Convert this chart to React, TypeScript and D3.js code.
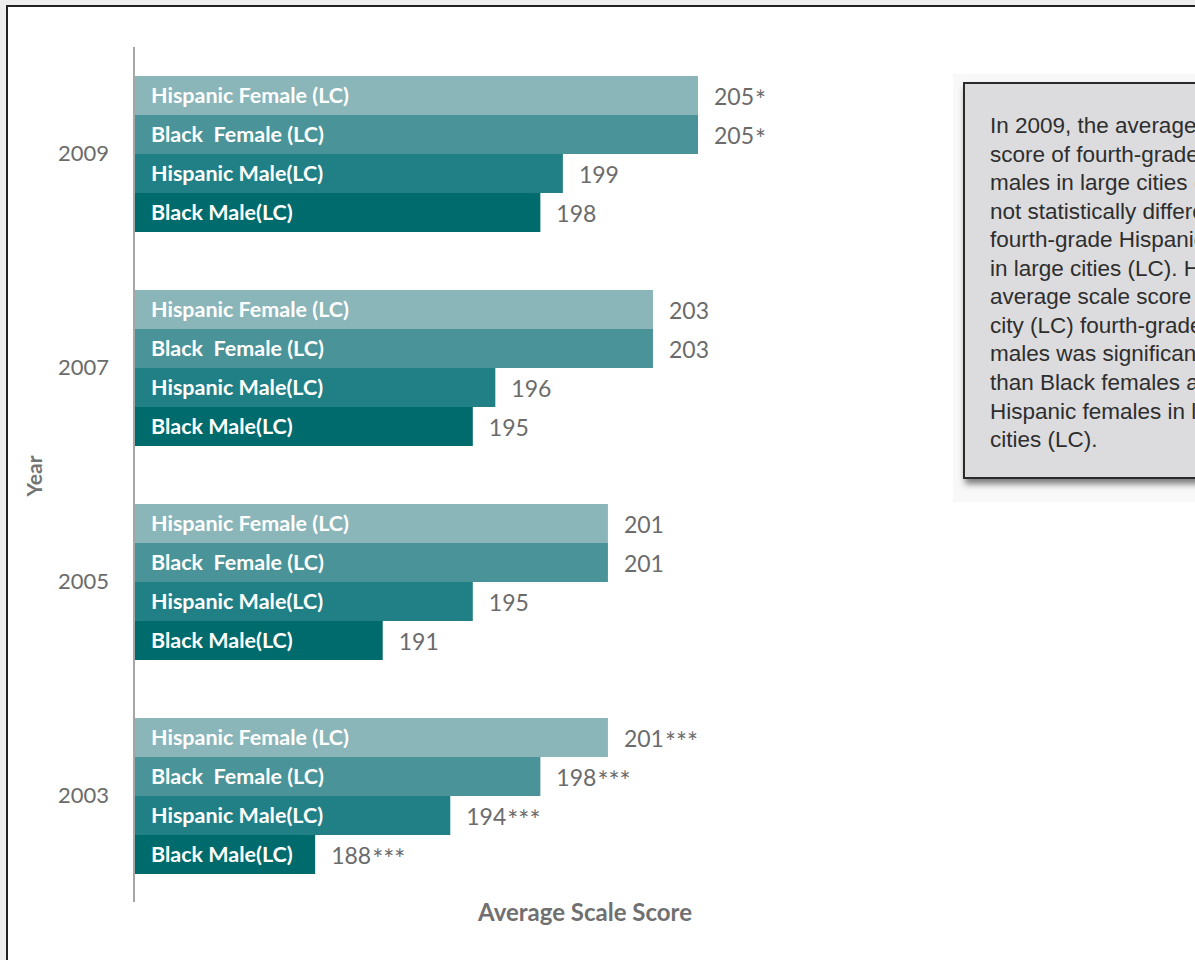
import React from "react";
import * as d3 from "d3";

const years = ["2009", "2007", "2005", "2003"];
const seriesNames = ["Hispanic Female (LC)", "Black  Female (LC)", "Hispanic Male(LC)", "Black Male(LC)"];
const seriesColors = ["#8ab5b9", "#4a9398", "#218086", "#006b6d"];
// values per year, in series order
const values2009 = [205, 205, 199, 198];
const values2007 = [203, 203, 196, 195];
const values2005 = [201, 201, 195, 191];
const values2003 = [201, 198, 194, 188];
const marks2009 = ["*", "*", "", ""];
const marks2007 = ["", "", "", ""];
const marks2005 = ["", "", "", ""];
const marks2003 = ["***", "***", "***", "***"];
const noteLines = [
  "In 2009, the average scale",
  "score of fourth-grade Black",
  "males in large cities (LC) was",
  "not statistically different from",
  "fourth-grade Hispanic males",
  "in large cities (LC). However, the",
  "average scale score of large",
  "city (LC) fourth-grade Black",
  "males was significantly lower",
  "than Black females and",
  "Hispanic females in large",
  "cities (LC).",
];

const valuesByYear = [values2009, values2007, values2005, values2003];
const marksByYear = [marks2009, marks2007, marks2005, marks2003];

export default function App() {
  const W = 1195, H = 960;
  const x = d3.scaleLinear().domain([180, 205]).range([135, 698]);
  const y0 = d3.scaleBand<string>().domain(years).range([76, 874]).paddingInner(58 / 214).paddingOuter(0);
  const y1 = d3.scaleBand<string>().domain(seriesNames).range([0, y0.bandwidth()]);
  const labelFont = "Lato, 'Open Sans', sans-serif";

  return (
    <div style={{ position: "absolute", left: 0, top: 0 }}>
      <svg width={W} height={H} style={{ display: "block" }}>
        <defs>
          <filter id="shadow" x="-10%" y="-10%" width="130%" height="130%">
            <feDropShadow dx="2" dy="5" stdDeviation="3" floodColor="#000" floodOpacity="0.5" />
          </filter>
        </defs>
        <rect x={0} y={0} width={W} height={H} fill="#eeeeee" />
        <rect x={7} y={6} width={W + 20} height={H + 20} fill="#ffffff" stroke="#222" strokeWidth={2} />

        {/* axis line */}
        <line x1={134} x2={134} y1={47} y2={902} stroke="#a6a6a6" strokeWidth={2} />

        {years.map((yr, gi) => {
          const gy = y0(yr)!;
          return (
            <g key={yr}>
              <text x={109} y={gy + y0.bandwidth() / 2 + 1} textAnchor="end" dominantBaseline="middle"
                fontFamily={labelFont} fontSize={22} fill="#6b6b6b">{yr}</text>
              {seriesNames.map((s, si) => {
                const v = valuesByYear[gi][si];
                const by = gy + y1(s)!;
                const bh = y1.bandwidth();
                const mk = marksByYear[gi][si];
                return (
                  <g key={s}>
                    <rect x={x(180)} y={by} width={x(v) - x(180)} height={bh} fill={seriesColors[si]} />
                    <text x={151} y={by + bh / 2 + 2} dominantBaseline="middle" fontFamily={labelFont}
                      fontWeight="bold" fontSize={21.5} fill="#ffffff" style={{ whiteSpace: "pre" }}>{s}</text>
                    <text x={x(v) + 16} y={by + bh / 2 + 9} fontFamily={labelFont}
                      fontSize={23} fill="#6b6b6b">{String(v)}{mk ? <tspan fontSize={26} dx={1} dy={5}>{mk}</tspan> : null}</text>
                  </g>
                );
              })}
            </g>
          );
        })}

        <text transform="translate(37,476) rotate(-90)" textAnchor="middle" dominantBaseline="middle"
          fontFamily={labelFont} fontWeight="bold" fontSize={21} fill="#747474">Year</text>
        <text x={585} y={915} textAnchor="middle" dominantBaseline="middle"
          fontFamily={labelFont} fontWeight="bold" fontSize={24} fill="#707070">Average Scale Score</text>

        {/* note box */}
        <rect x={953} y={74} width={260} height={428} fill="#f8f8f8" />
        <rect x={964} y={83} width={260} height={395} fill="#dcdcde" stroke="#2a2a2a" strokeWidth={2} filter="url(#shadow)" />
        {noteLines.map((ln, i) => (
          <text key={i} x={990} y={133 + i * 28.55} fontFamily="'Liberation Sans', Arial, sans-serif"
            fontSize={22.5} fill="#2e2e2e">{ln}</text>
        ))}
      </svg>
    </div>
  );
}
